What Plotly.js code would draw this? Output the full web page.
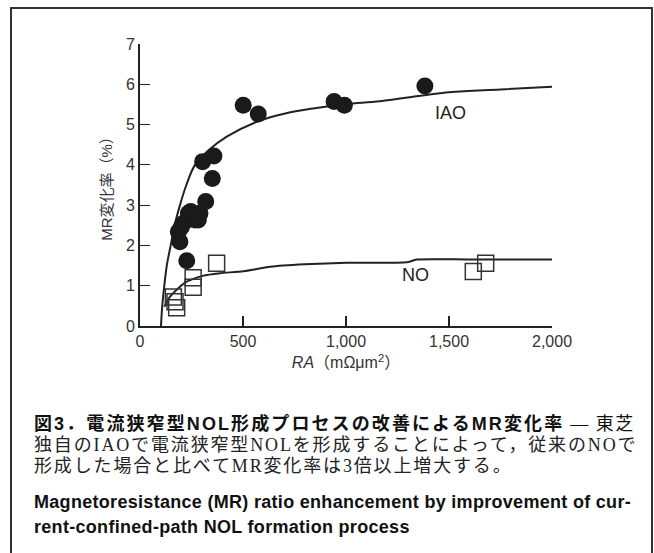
<!DOCTYPE html>
<html>
<head>
<meta charset="utf-8">
<script src="https://cdn.plot.ly/plotly-3.0.1.min.js"></script>
<style>
  html, body { margin: 0; padding: 0; background: #fff; }
  #wrap { position: relative; width: 654px; height: 553px; overflow: hidden; }
  #frame { position: absolute; left: 10px; top: 7px; width: 639px; height: 560px;
           border-left: 2px solid #333; border-top: 2px solid #333; border-right: 2px solid #333; }
  #chart { position: absolute; left: 0; top: 0; width: 654px; height: 553px; }
</style>
</head>
<body>
<div id="wrap">
  <div id="frame"></div>
  <div id="chart"></div>
</div>
<script>
// IAO measured points (filled circles)
const iaoX = [194, 186, 200, 210, 227, 235, 246, 267, 283, 291, 319, 304, 351, 359, 501, 574, 942, 992, 1383];
const iaoY = [2.09, 2.34, 2.45, 2.55, 1.62, 2.80, 2.84, 2.63, 2.63, 2.80, 3.09, 4.08, 3.66, 4.22, 5.48, 5.26, 5.57, 5.48, 5.96];
// NO measured points (open squares)
const noX = [162, 170, 178, 258, 258, 372, 1618, 1678];
const noY = [0.72, 0.60, 0.45, 1.20, 0.96, 1.56, 1.35, 1.56];
// Fitted curves
const iaoCurveX = [102, 108, 118, 130, 149, 168, 194, 225, 267, 330, 421, 583, 700, 841, 1000, 1166, 1500, 1750, 2000];
const iaoCurveY = [0, 0.5, 1.0, 1.5, 2.0, 2.5, 3.0, 3.5, 4.0, 4.35, 4.7, 5.1, 5.27, 5.4, 5.51, 5.58, 5.8, 5.87, 5.94];
const noCurveX = [118, 146, 186, 227, 308, 389, 502, 632, 800, 1003, 1294, 1343, 1600, 2000];
const noCurveY = [0.48, 0.73, 0.94, 1.10, 1.25, 1.31, 1.36, 1.47, 1.53, 1.57, 1.58, 1.65, 1.65, 1.65];
// Axis ticks
const xTicks = [0, 500, 1000, 1500, 2000];
const xTickText = ['0', '500', '1,000', '1,500', '2,000'];
const yTicks = [0, 1, 2, 3, 4, 5, 6, 7];
// Series labels
const seriesLabels = [
  {text: 'IAO', x: 1505, y: 5.29},
  {text: 'NO', x: 1335, y: 1.27}
];
// Caption text
const captionTitle = '図3．電流狭窄型NOL形成プロセスの改善によるMR変化率';
const captionTitleTail = ' ― 東芝';
const captionBody = ['独自のIAOで電流狭窄型NOLを形成することによって，従来のNOで',
                     '形成した場合と比べてMR変化率は3倍以上増大する。'];
const captionEn = ['Magnetoresistance (MR) ratio enhancement by improvement of cur-',
                   'rent-confined-path NOL formation process'];

const ink = '#222';
const traces = [
  {x: iaoCurveX, y: iaoCurveY, mode: 'lines', line: {color: ink, width: 2, shape: 'spline', smoothing: 1}, hoverinfo: 'skip'},
  {x: noCurveX, y: noCurveY, mode: 'lines', line: {color: ink, width: 2, shape: 'spline', smoothing: 0.6}, hoverinfo: 'skip'},
  {x: iaoX, y: iaoY, mode: 'markers', marker: {symbol: 'circle', size: 17, color: '#1a1a1a', line: {width: 0}}},
  {x: noX, y: noY, mode: 'markers', marker: {symbol: 'square-open', size: 16, color: '#333', line: {width: 1.5, color: '#333'}}}
];

// paper coordinate helpers (plot area: x 140..552 px, y 44..326 px)
const L = 140, R = 552, T = 44, B = 326;
const px = v => (v - L) / (R - L);
const py = v => (B - v) / (B - T);

const serif = '"Liberation Serif", "Noto Sans CJK JP", serif';
const sans = '"Liberation Sans", Arial, "Noto Sans CJK JP", sans-serif';

const annotations = seriesLabels.map(s => ({
  x: s.x, y: s.y, xref: 'x', yref: 'y', text: s.text, showarrow: false,
  font: {family: sans, size: 18, color: ink}
}));

annotations.push({
  xref: 'paper', yref: 'paper', x: px(32), y: py(423), xanchor: 'left', yanchor: 'middle',
  showarrow: false, align: 'left',
  text: '<b><span style="letter-spacing:2.1px">' + captionTitle + '</span></b><span style="font-family:' + "'Liberation Serif','Noto Sans CJK JP'" + ';letter-spacing:1.5px">' + captionTitleTail + '</span>',
  font: {family: '"Liberation Sans", "Noto Sans CJK JP", sans-serif', size: 18, color: '#111'}
});
captionBody.forEach((t, i) => annotations.push({
  xref: 'paper', yref: 'paper', x: px(32), y: py(445 + i * 21), xanchor: 'left', yanchor: 'middle',
  showarrow: false, align: 'left',
  text: '<span style="letter-spacing:1.85px">' + t + '</span>',
  font: {family: serif, size: 18, color: '#222'}
}));
captionEn.forEach((t, i) => annotations.push({
  xref: 'paper', yref: 'paper', x: px(32), y: py(502 + i * 25), xanchor: 'left', yanchor: 'middle',
  showarrow: false, align: 'left',
  text: '<b><span style="letter-spacing:0.3px">' + t + '</span></b>',
  font: {family: sans, size: 18, color: '#111'}
}));

const layout = {
  width: 654, height: 553,
  margin: {l: L, r: 654 - R, t: T, b: 553 - B},
  paper_bgcolor: 'rgba(0,0,0,0)', plot_bgcolor: 'rgba(0,0,0,0)',
  showlegend: false,
  xaxis: {
    range: [0, 2000], tickvals: xTicks, ticktext: xTickText,
    ticks: 'inside', ticklen: 10, tickwidth: 1.2, tickcolor: ink,
    showline: true, linecolor: ink, linewidth: 2, showgrid: false, zeroline: false,
    tickfont: {family: sans, size: 16, color: '#333'},
    title: {text: '<i>RA</i>（mΩμm<sup>2</sup>）', font: {family: sans, size: 16, color: '#333'}, standoff: 8},
    fixedrange: true
  },
  yaxis: {
    range: [0, 7], tickvals: yTicks,
    ticks: 'inside', ticklen: 10, tickwidth: 1.2, tickcolor: ink,
    showline: true, linecolor: ink, linewidth: 2, showgrid: false, zeroline: false,
    tickfont: {family: sans, size: 16, color: '#333'},
    title: {text: 'MR変化率（%）', font: {family: sans, size: 15, color: '#333'}, standoff: 10},
    fixedrange: true
  },
  annotations: annotations
};

Plotly.newPlot('chart', traces, layout, {displayModeBar: false, staticPlot: true});
</script>
</body>
</html>
